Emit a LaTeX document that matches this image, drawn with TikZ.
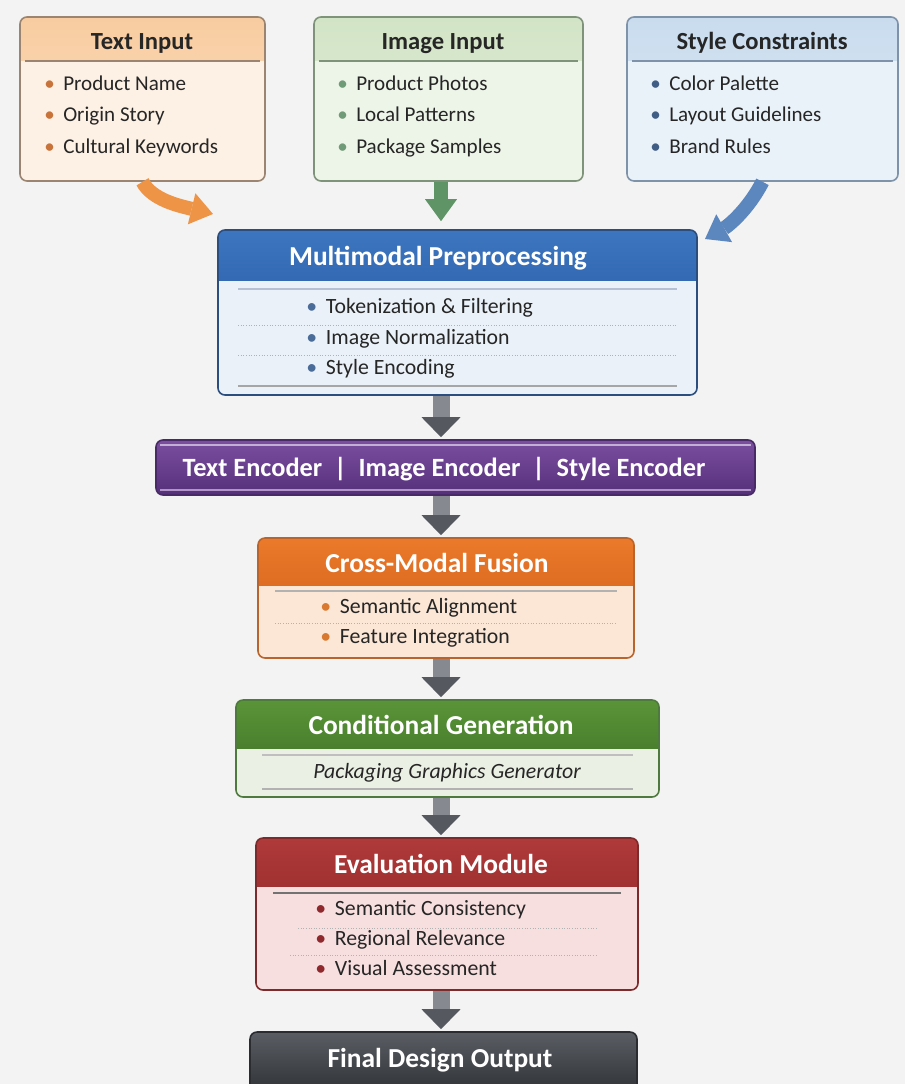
\documentclass[tikz,border=0pt]{standalone}
\usepackage{fontspec}
\setmainfont{Carlito}
\usetikzlibrary{calc,fit,arrows.meta}

% colours
\definecolor{bgcol}{HTML}{F3F3F3}
\definecolor{txtTop}{HTML}{F8CCA0}\definecolor{txtBot}{HTML}{FCE0C5}
\definecolor{txtBody}{HTML}{FDF0E4}\definecolor{txtEdge}{HTML}{9B8570}
\definecolor{txtDot}{HTML}{C8733A}
\definecolor{imgTop}{HTML}{D2E4C6}\definecolor{imgBot}{HTML}{E3EEDB}
\definecolor{imgBody}{HTML}{EDF4E8}\definecolor{imgEdge}{HTML}{7F937A}
\definecolor{imgDot}{HTML}{6F9B78}
\definecolor{styTop}{HTML}{C9DCEE}\definecolor{styBot}{HTML}{DDE9F5}
\definecolor{styBody}{HTML}{E9F1F9}\definecolor{styEdge}{HTML}{7E93AA}
\definecolor{styDot}{HTML}{3F5D85}
\definecolor{mmTop}{HTML}{3D76C0}\definecolor{mmBot}{HTML}{1C4C93}
\definecolor{mmBody}{HTML}{EAF1F8}\definecolor{mmEdge}{HTML}{2C4E7E}
\definecolor{mmDot}{HTML}{4A6C99}
\definecolor{encTop}{HTML}{7B4EA0}\definecolor{encBot}{HTML}{55307A}
\definecolor{encEdge}{HTML}{4A2A66}
\definecolor{cmTop}{HTML}{EC7A2B}\definecolor{cmBot}{HTML}{C95714}
\definecolor{cmBody}{HTML}{FCE7D6}\definecolor{cmEdge}{HTML}{B8642C}
\definecolor{cmDot}{HTML}{D9782F}
\definecolor{cgTop}{HTML}{5A9438}\definecolor{cgBot}{HTML}{3A6B22}
\definecolor{cgBody}{HTML}{EAF1E4}\definecolor{cgEdge}{HTML}{4E7B3D}
\definecolor{evTop}{HTML}{B03A3A}\definecolor{evBot}{HTML}{7E1C20}
\definecolor{evBody}{HTML}{F8DFDF}\definecolor{evEdge}{HTML}{7D2A2C}
\definecolor{evDot}{HTML}{8E2A2E}
\definecolor{finTop}{HTML}{5A5E64}\definecolor{finBot}{HTML}{2E3135}
\definecolor{finEdge}{HTML}{2A2C30}
\definecolor{arrGray}{HTML}{868A90}\definecolor{arrTip}{HTML}{55595F}
\definecolor{arrOrg}{HTML}{EE9446}\definecolor{arrGrn}{HTML}{5E9466}
\definecolor{arrBlu}{HTML}{5B86BE}

\def\dotb#1{{\color{#1}\textbullet}\hspace{0.4em}}

\begin{document}
\begin{tikzpicture}[x=0.02cm, y=-0.02cm,
	box/.style={draw=#1, line width=0.9pt, rounded corners=0.14cm, inner sep=0pt},
	hdr/.style n args={3}{path picture={
			\shade[sharp corners, top color=#1, bottom color=#2] (path picture bounding box.north west) rectangle ([yshift={-#3*0.02cm}]path picture bounding box.north east);}},
	ttl/.style={font=\fontsize{14}{16}\selectfont\bfseries, text=black!85, anchor=base, inner sep=0pt},
	mttl/.style={font=\fontsize{15.6}{18}\selectfont\bfseries, text=white, anchor=base, inner sep=0pt},
	itm/.style={font=\fontsize{12}{14}\selectfont, text=black!85, anchor=base west, inner sep=0pt},
	mitm/.style={itm, font=\fontsize{12.4}{14}\selectfont},
	sep/.style={draw=#1, line width=0.8pt},
	sepd/.style={draw=black!30, densely dotted, line width=0.5pt},
	garrow/.style={line width=0.34cm, draw=arrGray, -{Triangle[width=0.78cm, length=0.4cm, line width'=0pt, color=arrTip, fill=arrTip]}},
	carrow/.style={line width=0.28cm, draw=#1, -{Triangle[width=0.64cm, length=0.44cm, line width'=0pt, color=#1, fill=#1]}}
	]
	%%%%% START %%%%%
	
	\fill[bgcol] (0,0) rectangle (905,1084);
	\useasboundingbox (0,0) rectangle (905,1084);
	\coordinate (axis) at (441,0);
	
	% three inputs
	\node[box=txtEdge, fill=txtBody, hdr={txtTop}{txtBot}{44}, fit={(20,17) (265,181)}] (txt) {};
	\node[ttl] (txtT) at (142,50) {Text Input};
	\draw[sep=txtEdge] (25,61) -- (260,61);
	\node[itm] (txt1) at (44,91) {\dotb{txtDot}Product Name};
	\node[itm] (txt2) at (44,122) {\dotb{txtDot}Origin Story};
	\node[itm] (txt3) at (44,154) {\dotb{txtDot}Cultural Keywords};
	
	\node[box=imgEdge, fill=imgBody, hdr={imgTop}{imgBot}{44}, fit={(314,17) (583,181)}] (img) {};
	\node[ttl] (imgT) at (443,50) {Image Input};
	\draw[sep=imgEdge] (319,61) -- (578,61);
	\node[itm] (img1) at (337,91) {\dotb{imgDot}Product Photos};
	\node[itm] (img2) at (337,122) {\dotb{imgDot}Local Patterns};
	\node[itm] (img3) at (337,154) {\dotb{imgDot}Package Samples};
	
	\node[box=styEdge, fill=styBody, hdr={styTop}{styBot}{44}, fit={(627,17) (898,181)}] (sty) {};
	\node[ttl] (styT) at (762,50) {Style Constraints};
	\draw[sep=styEdge] (632,61) -- (893,61);
	\node[itm] (sty1) at (650,91) {\dotb{styDot}Color Palette};
	\node[itm] (sty2) at (650,122) {\dotb{styDot}Layout Guidelines};
	\node[itm] (sty3) at (650,154) {\dotb{styDot}Brand Rules};
	
	% preprocessing
	\node[box=mmEdge, fill=mmBody, hdr={mmTop}{mmBot}{51}, fit={(218,230) (697,395)}] (mm) {};
	\node[mttl] (mmT) at (438,266) {Multimodal Preprocessing};
	\draw[sep=mmEdge!35] (238,289) -- (677,289);
	\draw[sepd] (238,325) -- (677,325);
	\draw[sepd] (238,355) -- (677,355);
	\draw[sep=black!35] (238,386) -- (677,386);
	\node[mitm] (mm1) at (306,314) {\dotb{mmDot}Tokenization \& Filtering};
	\node[mitm] (mm2) at (306,344) {\dotb{mmDot}Image Normalization};
	\node[mitm] (mm3) at (306,374) {\dotb{mmDot}Style Encoding};
	
	\draw[carrow=arrOrg] (txt.south) .. controls (152,200) and (180,206) .. (213,214);
	\draw[carrow=arrGrn] (img.south -| axis) -- ([yshift=0.16cm]mm.north -| axis);
	\draw[carrow=arrBlu] (sty.south) .. controls (748,210) and (728,226) .. (705,239);
	
	% encoders
	\node[box=encEdge, top color=encTop, bottom color=encBot, fit={(156,440) (755,495)}] (enc) {};
	\draw[encTop!45, line width=0.8pt] (160,445) -- (751,445);
	\draw[encTop!60, line width=0.8pt] (160,490) -- (751,490);
	\node[mttl, font=\fontsize{15}{17}\selectfont\bfseries] (encT) at (444,476) {Text Encoder \ | \ Image Encoder \ | \ Style Encoder};
	\draw[garrow] (mm.south -| axis) -- ([yshift=0.04cm]enc.north -| axis);
	
	% fusion
	\node[box=cmEdge, fill=cmBody, hdr={cmTop}{cmBot}{47}, fit={(258,538) (634,658)}] (cm) {};
	\node[mttl] (cmT) at (437,572) {Cross-Modal Fusion};
	\draw[sep=black!30] (275,591) -- (617,591);
	\draw[sepd] (275,623) -- (617,623);
	\node[mitm] (cm1) at (320,613) {\dotb{cmDot}Semantic Alignment};
	\node[mitm] (cm2) at (320,643) {\dotb{cmDot}Feature Integration};
	\draw[garrow] (enc.south -| axis) -- ([yshift=0.04cm]cm.north -| axis);
	
	% generation
	\node[box=cgEdge, fill=cgBody, hdr={cgTop}{cgBot}{48}, fit={(236,700) (659,797)}] (cg) {};
	\node[mttl] (cgT) at (441,734) {Conditional Generation};
	\draw[sep=black!25] (262,755) -- (633,755);
	\draw[sep=black!30] (262,789) -- (633,789);
	\node[mitm, anchor=base, font=\fontsize{12.4}{14}\selectfont\itshape] (cg1) at (447,778) {Packaging Graphics Generator};
	\draw[garrow] (cm.south -| axis) -- ([yshift=0.04cm]cg.north -| axis);
	
	% evaluation
	\node[box=evEdge, fill=evBody, hdr={evTop}{evBot}{48}, fit={(256,838) (638,990)}] (ev) {};
	\node[mttl] (evT) at (441,873) {Evaluation Module};
	\draw[sep=black!55] (273,893) -- (621,893);
	\draw[sepd] (298,928) -- (596,928);
	\draw[sepd] (290,955) -- (596,955);
	\node[mitm] (ev1) at (315,915) {\dotb{evDot}Semantic Consistency};
	\node[mitm] (ev2) at (315,945) {\dotb{evDot}Regional Relevance};
	\node[mitm] (ev3) at (315,975) {\dotb{evDot}Visual Assessment};
	\draw[garrow] (cg.south -| axis) -- ([yshift=0.04cm]ev.north -| axis);
	
	% output
	\node[box=finEdge, top color=finTop, bottom color=finBot, fit={(250,1032) (637,1094)}] (fin) {};
	\node[mttl] (finT) at (440,1067) {Final Design Output};
	\draw[garrow] (ev.south -| axis) -- ([yshift=0.04cm]fin.north -| axis);
	
	%%%%% END %%%%%
\end{tikzpicture}
\end{document}
